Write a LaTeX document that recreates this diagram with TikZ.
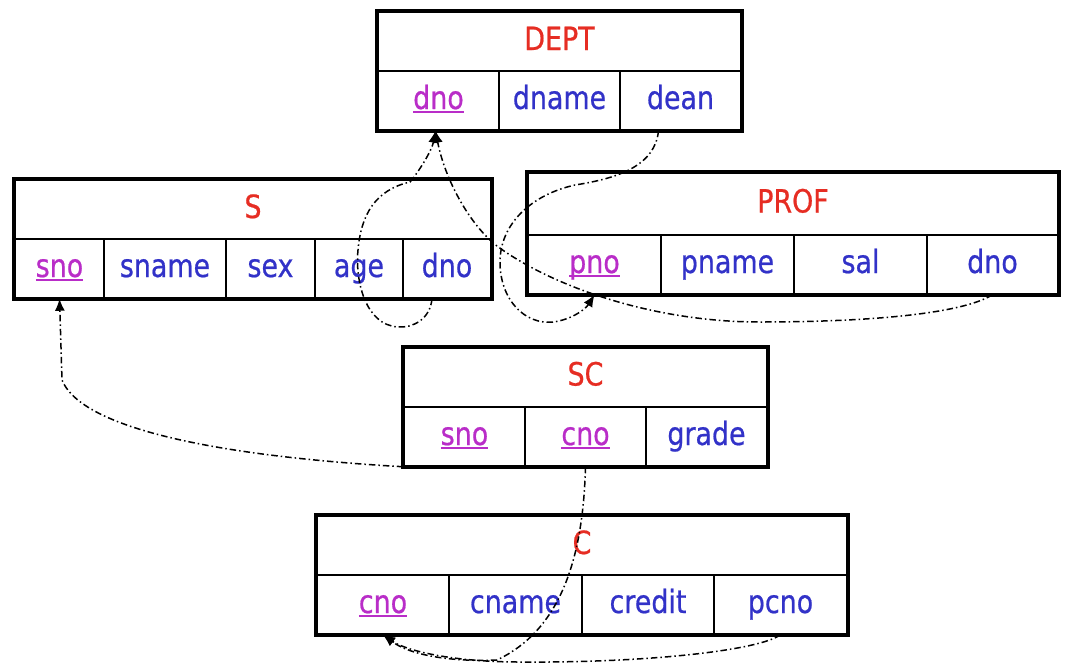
\documentclass[tikz,border=0pt]{standalone}
\usepackage{fontspec}
\setmainfont{DejaVu Sans}[FakeStretch=0.84,FakeBold=0.6]
\usetikzlibrary{arrows.meta,fit}
\definecolor{titlecol}{RGB}{230,45,35}
\definecolor{fieldcol}{RGB}{50,50,200}
\definecolor{keycol}{RGB}{185,45,200}
\newcommand\keyf[1]{\setbox0\hbox{#1}\rlap{\color{keycol}\rule[-4pt]{\wd0}{2.4pt}}\textcolor{keycol}{#1}}
\begin{document}
\begin{tikzpicture}[x=1pt,y=-1pt,
  cell/.style={draw, line width=1.5pt, inner sep=0pt, minimum height=59pt,
    text height=24pt, text depth=7pt, font=\fontsize{32}{36}\selectfont, text=fieldcol},
  ttl/.style={cell, text=titlecol},
  frame/.style={draw, line width=4pt, inner sep=0pt},
  conn/.style={line width=1.5pt, dash pattern=on 6.5pt off 3pt on 1.5pt off 3pt,
    -{Latex[length=12pt,width=10pt]}}]
\useasboundingbox (0,0) rectangle (1076,670);
% DEPT
\node[ttl, minimum width=363pt] (dept-title) at (559.5,41.5) {DEPT};
\node[cell, minimum width=121pt] (dept-dno) at (438.5,100.5) {\keyf{dno}};
\node[cell, minimum width=121pt] (dept-dname) at (559.5,100.5) {dname};
\node[cell, minimum width=121pt] (dept-dean) at (680.5,100.5) {dean};
\node[frame, fit=(dept-title)(dept-dno)(dept-dean)] (dept) {};
% S
\node[ttl, minimum width=476pt] (s-title) at (253,209.5) {S};
\node[cell, minimum width=89pt] (s-sno) at (59.5,268.5) {\keyf{sno}};
\node[cell, minimum width=122pt] (s-sname) at (165,268.5) {sname};
\node[cell, minimum width=89pt] (s-sex) at (270.5,268.5) {sex};
\node[cell, minimum width=88pt] (s-age) at (359,268.5) {age};
\node[cell, minimum width=88pt] (s-dno) at (447,268.5) {dno};
\node[frame, fit=(s-title)(s-sno)(s-dno)] (s) {};
% PROF
\node[ttl, minimum width=530pt, minimum height=62pt] (prof-title) at (793,204) {PROF};
\node[cell, minimum width=133pt] (prof-pno) at (594.5,264.5) {\keyf{pno}};
\node[cell, minimum width=133pt] (prof-pname) at (727.5,264.5) {pname};
\node[cell, minimum width=133pt] (prof-sal) at (860.5,264.5) {sal};
\node[cell, minimum width=131pt] (prof-dno) at (992.5,264.5) {dno};
\node[frame, fit=(prof-title)(prof-pno)(prof-dno)] (prof) {};
% SC
\node[ttl, minimum width=363pt] (sc-title) at (585.5,377) {SC};
\node[cell, minimum width=121pt] (sc-sno) at (464.5,436.5) {\keyf{sno}};
\node[cell, minimum width=121pt] (sc-cno) at (585.5,436.5) {\keyf{cno}};
\node[cell, minimum width=121pt] (sc-grade) at (706.5,436.5) {grade};
\node[frame, fit=(sc-title)(sc-sno)(sc-grade)] (sc) {};
% C
\node[ttl, minimum width=530pt] (c-title) at (582,545.5) {C};
\node[cell, minimum width=132pt] (c-cno) at (383,604.5) {\keyf{cno}};
\node[cell, minimum width=133pt] (c-cname) at (515.5,604.5) {cname};
\node[cell, minimum width=132pt] (c-credit) at (648,604.5) {credit};
\node[cell, minimum width=133pt] (c-pcno) at (780.5,604.5) {pcno};
\node[frame, fit=(c-title)(c-cno)(c-pcno)] (c) {};
% connectors
\draw[conn] ([xshift=-15pt]s-dno.south) .. controls (430,320) and (412,328) .. (398,327)
  .. controls (365,325) and (355,280) .. (358,250)
  .. controls (361,215) and (375,190) .. (410,182)
  .. controls (420,170) and (432,150) .. ([xshift=-3pt]dept-dno.south);
\draw[conn] (prof-dno.south) .. controls (960,315) and (860,322) .. (760,322)
  .. controls (650,322) and (550,285) .. (497,246)
  .. controls (470,225) and (445,180) .. ([xshift=-3pt]dept-dno.south);
\draw[conn] ([xshift=-22pt]dept-dean.south) .. controls (655,165) and (620,178) .. (575,185)
  .. controls (530,195) and (500,225) .. (500,262)
  .. controls (500,300) and (525,325) .. (553,322)
  .. controls (570,320) and (585,310) .. (prof-pno.south);
\draw[conn] (sc-sno.south west) .. controls (200,455) and (80,425) .. (62,380)
  -- (s-sno.south);
\draw[conn] (sc-cno.south) .. controls (583,560) and (560,630) .. (497,660)
  .. controls (450,662) and (410,655) .. (c-cno.south);
\draw[conn] (c-pcno.south) .. controls (760,650) and (650,663) .. (520,662)
  .. controls (450,662) and (405,650) .. (c-cno.south);
\end{tikzpicture}
\end{document}
